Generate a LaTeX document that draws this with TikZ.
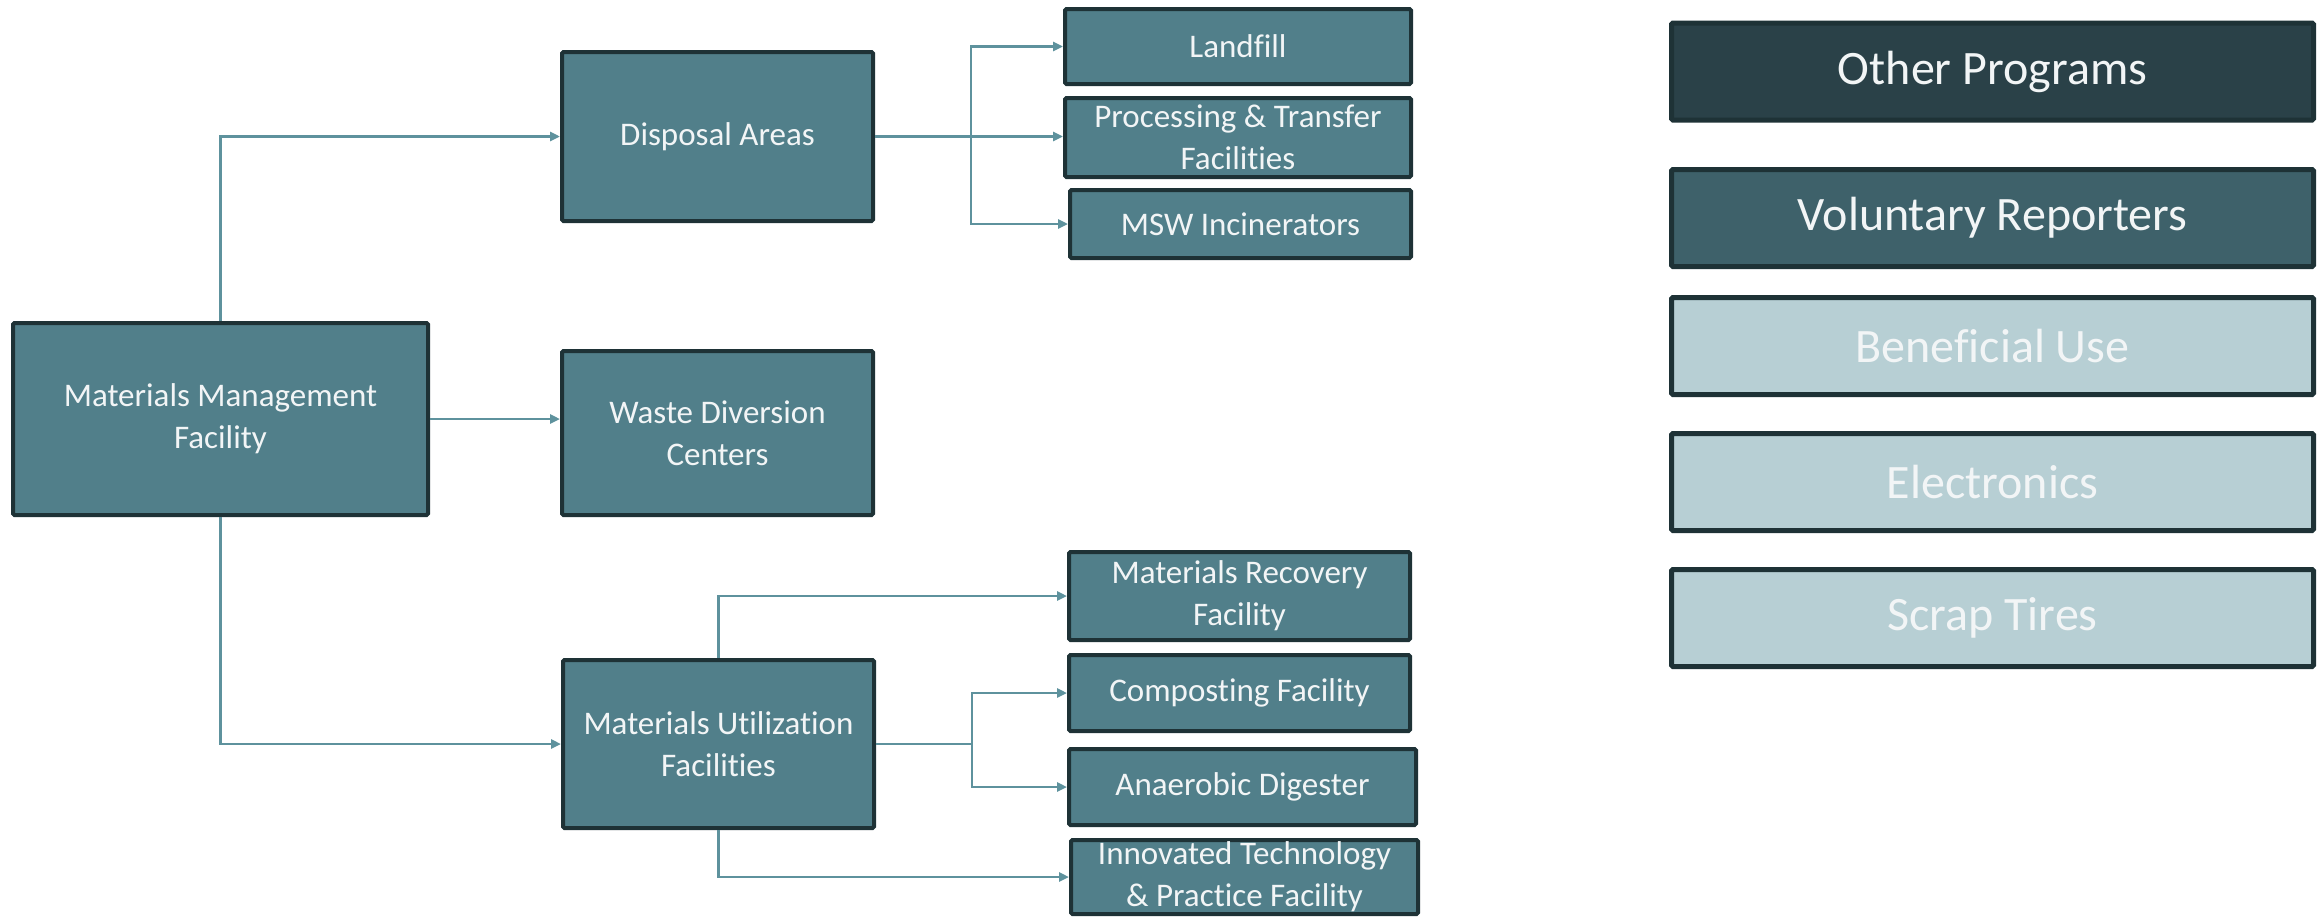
\documentclass[tikz,border=0pt]{standalone}
\usepackage{fontspec}
\setmainfont{Carlito}[Ligatures={NoCommon,NoContextual}]
\usetikzlibrary{arrows.meta}
\definecolor{boxfill}{HTML}{517F8A}
\definecolor{boxline}{HTML}{1E3236}
\definecolor{boxtext}{HTML}{F2F5F6}
\definecolor{otherfill}{HTML}{2A4148}
\definecolor{volfill}{HTML}{3E616A}
\definecolor{lightfill}{HTML}{B7CFD4}
\definecolor{linkcol}{HTML}{5E929D}
\tikzset{
	box/.style={draw=boxline, line width=4pt, fill=boxfill, text=boxtext, rounded corners=1.5pt, inner sep=0pt, align=center, font=\fontsize{33}{42}\selectfont},
	legend/.style={box, line width=5pt, minimum width=642pt, minimum height=97pt, font=\fontsize{48}{58}\selectfont},
	wire/.style={draw=linkcol, line width=2.5pt},
	link/.style={wire, -{Triangle[length=10pt,width=9pt]}},
}
\begin{document}
\begin{tikzpicture}[x=1pt,y=-1pt]
	\useasboundingbox (0,0) rectangle (2317,918);
	\node[box, minimum width=415pt, minimum height=192pt] (mmf) at (220.5,419) {Materials Management\\Facility};
	\node[box, minimum width=311pt, minimum height=169pt] (disp) at (717.5,136.5) {Disposal Areas};
	\node[box, minimum width=311pt, minimum height=164pt] (waste) at (717.5,433) {Waste Diversion\\Centers};
	\node[box, minimum width=311pt, minimum height=168pt] (util) at (718.5,744) {Materials Utilization\\Facilities};
	\node[box, minimum width=346pt, minimum height=75pt] (landfill) at (1238,46.5) {Landfill};
	\node[box, minimum width=346pt, minimum height=79pt] (proc) at (1238,137.5) {Processing \& Transfer\\Facilities};
	\node[box, minimum width=341pt, minimum height=68pt] (msw) at (1240.5,224) {MSW Incinerators};
	\node[box, minimum width=341pt, minimum height=88pt] (recov) at (1239.5,596) {Materials Recovery\\Facility};
	\node[box, minimum width=341pt, minimum height=76pt] (compost) at (1239.5,693) {Composting Facility};
	\node[box, minimum width=347pt, minimum height=76pt] (anaer) at (1242.5,787) {Anaerobic Digester};
	\node[box, minimum width=347pt, minimum height=74pt] (innov) at (1244.5,877) {Innovated Technology\\\& Practice Facility};
	\node[legend, fill=otherfill] (other) at (1992.5,71.5) {Other Programs};
	\node[legend, fill=volfill] (vol) at (1992.5,218) {Voluntary Reporters};
	\node[legend, fill=lightfill] (benef) at (1992.5,346) {Beneficial Use};
	\node[legend, fill=lightfill] (elec) at (1992.5,482) {Electronics};
	\node[legend, fill=lightfill] (tires) at (1992.5,618) {Scrap Tires};
	\draw[link] (mmf.north) |- (disp.west);
	\draw[link] (mmf.east) -- (mmf.east -| waste.west);
	\draw[link] (mmf.south) |- (util.west);
	\coordinate (dsplit) at ([xshift=96pt]disp.east);
	\draw[wire] (disp.east) -- (dsplit);
	\draw[link] (dsplit) |- (landfill.west);
	\draw[link] (dsplit) -- (dsplit -| proc.west);
	\draw[link] (dsplit) |- (msw.west);
	\coordinate (usplit) at ([xshift=96pt]util.east);
	\draw[wire] (util.east) -- (usplit);
	\draw[link] (usplit) |- (compost.west);
	\draw[link] (usplit) |- (anaer.west);
	\draw[link] (util.north) |- (recov.west);
	\draw[link] (util.south) |- (innov.west);
\end{tikzpicture}
\end{document}
